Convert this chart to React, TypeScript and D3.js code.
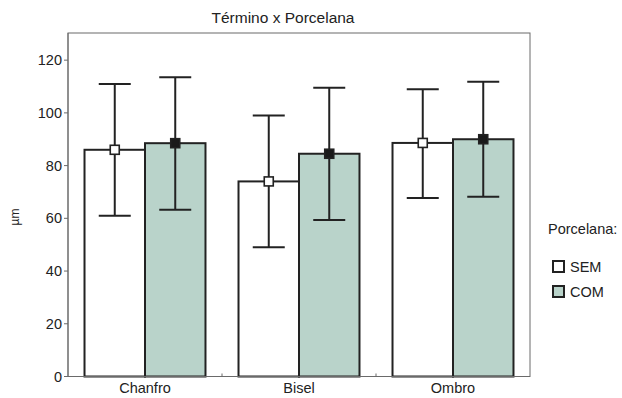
import React from "react";
import * as d3 from "d3";

const categories = ["Chanfro", "Bisel", "Ombro"];
const series = ["SEM", "COM"];
const means = [
  [86, 88.5],
  [74, 84.5],
  [88.6, 90],
];
const upper = [
  [111, 113.5],
  [99, 109.5],
  [109, 111.8],
];
const lower = [
  [61, 63.3],
  [49, 59.4],
  [67.7, 68.2],
];
const yTicks = [0, 20, 40, 60, 80, 100, 120];

const fills = ["#ffffff", "#b9d3ca"];
const markerFills = ["#ffffff", "#1a1a1a"];

export default function App() {
  const W = 622;
  const H = 398;
  const left = 68, right = 530, top = 33, bottom = 376.5;
  const font = "Liberation Sans, Arial, sans-serif";

  const x = d3.scaleBand().domain(categories).range([left, right]);
  const xs = d3
    .scaleBand()
    .domain(series)
    .range([0, x.bandwidth()])
    .paddingInner(0)
    .paddingOuter(0.273);
  const y = d3.scaleLinear().domain([0, 130.3]).range([bottom, top]);

  const cap = 16;
  const mk = 4.5;

  return (
    <svg
      width={W}
      height={H}
      style={{ position: "absolute", left: 0, top: 0 }}
      fontFamily={font}
    >
      <rect width={W} height={H} fill="#fff" />
      <text x={283} y={23.3} textAnchor="middle" fontSize={15.5} fill="#222">
        Término x Porcelana
      </text>

      {/* frame */}
      <rect x={left} y={top} width={right - left} height={bottom - top} fill="none" stroke="#6a6a6a" strokeWidth={1} />

      {categories.map((c, i) =>
        series.map((s, j) => {
          const bx = (x(c) as number) + (xs(s) as number);
          const bw = xs.bandwidth();
          return (
            <rect
              key={`${c}-${s}`}
              x={bx}
              y={y(means[i][j])}
              width={bw}
              height={bottom - y(means[i][j])}
              fill={fills[j]}
              stroke="#222"
              strokeWidth={2}
            />
          );
        })
      )}

      {categories.map((c, i) =>
        series.map((s, j) => {
          const cx = (x(c) as number) + (xs(s) as number) + xs.bandwidth() / 2;
          return (
            <g key={`err-${c}-${s}`} stroke="#222" strokeWidth={2}>
              <line x1={cx} x2={cx} y1={y(upper[i][j])} y2={y(lower[i][j])} />
              <line x1={cx - cap} x2={cx + cap} y1={y(upper[i][j])} y2={y(upper[i][j])} />
              <line x1={cx - cap} x2={cx + cap} y1={y(lower[i][j])} y2={y(lower[i][j])} />
              <rect
                x={cx - mk}
                y={y(means[i][j]) - mk}
                width={mk * 2}
                height={mk * 2}
                fill={markerFills[j]}
                strokeWidth={1.6}
              />
            </g>
          );
        })
      )}

      {/* y axis */}
      <line x1={left} x2={left} y1={top} y2={bottom} stroke="#6a6a6a" />
      {yTicks.map((t) => (
        <g key={t}>
          <line x1={left - 4} x2={left} y1={y(t)} y2={y(t)} stroke="#6a6a6a" />
          <text x={left - 6} y={y(t)} dy="0.35em" textAnchor="end" fontSize={14.5} fill="#222">
            {t}
          </text>
        </g>
      ))}
      <text
        transform={`translate(19, 217) rotate(-90)`}
        textAnchor="middle"
        fontSize={12}
        fill="#222"
      >
        µm
      </text>

      {/* x axis */}
      <line x1={left} x2={right} y1={bottom} y2={bottom} stroke="#6a6a6a" />
      {categories.slice(1).map((c) => (
        <line key={c} x1={x(c) as number} x2={x(c) as number} y1={bottom} y2={bottom - 3} stroke="#6a6a6a" />
      ))}
      {categories.map((c) => (
        <text
          key={c}
          x={(x(c) as number) + x.bandwidth() / 2}
          y={bottom + 16}
          textAnchor="middle"
          fontSize={14.5}
          fill="#222"
        >
          {c}
        </text>
      ))}

      {/* legend */}
      <text x={548} y={234} fontSize={14.5} fill="#222">
        Porcelana:
      </text>
      {series.map((s, j) => (
        <g key={s} transform={`translate(553, ${261 + j * 25})`}>
          <rect x={0} y={0} width={11} height={11} fill={fills[j]} stroke="#222" strokeWidth={2} />
          <text x={17} y={10.5} fontSize={14.5} fill="#222">
            {s}
          </text>
        </g>
      ))}
    </svg>
  );
}
